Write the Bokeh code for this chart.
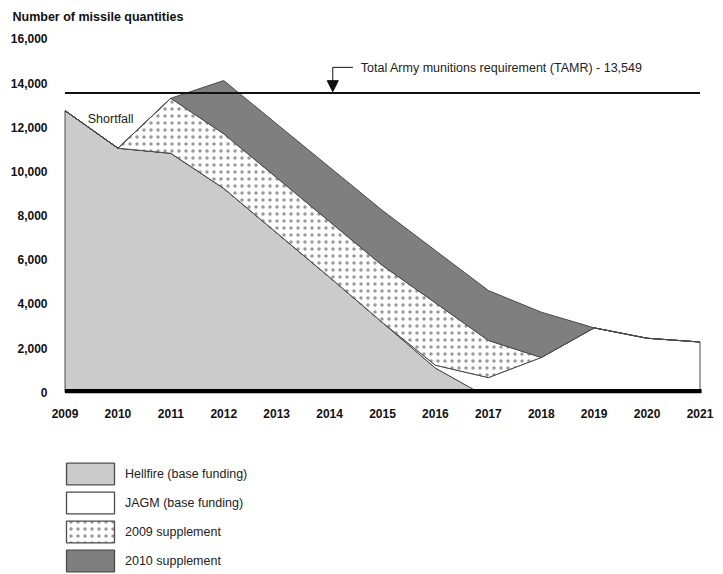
import numpy as np
from bokeh.plotting import figure
from bokeh.layouts import column
from bokeh.models import FixedTicker, Legend, LegendItem, Label, Arrow, NormalHead, Range1d
from bokeh.embed import file_html
from bokeh.resources import INLINE

# ---- data ----
fy = [2009, 2010, 2011, 2012, 2013, 2014, 2015, 2016, 2016.82, 2017, 2018, 2019, 2020, 2021]
hellfire = [12750, 11050, 10820, 9230, 7220, 5210, 3160, 1100, 0, 0, 0, 0, 0, 0]
jagm = [0, 0, 0, 0, 0, 0, 0, 130, 770, 670, 1580, 2920, 2450, 2280]
supp_2009 = [0, 0, 2490, 2470, 2495, 2520, 2580, 2820, 1890, 1680, 0, 0, 0, 0]
supp_2010 = [0, 0, 0, 2410, 2435, 2460, 2490, 2370, 2280, 2260, 2050, 0, 0, 0]
series_names = ["Hellfire (base funding)", "JAGM (base funding)", "2009 supplement", "2010 supplement"]
tamr = 13549
tamr_label = "Total Army munitions requirement (TAMR) - 13,549"
year_ticks = list(range(2009, 2022))
year_labels = [str(y) for y in year_ticks]
y_ticks = [0, 2000, 4000, 6000, 8000, 10000, 12000, 14000, 16000]
y_tick_labels = ["0", "2,000", "4,000", "6,000", "8,000", "10,000", "12,000", "14,000", "16,000"]

FONT = "Liberation Sans"
OUTLINE = "#4a4a4a"

p = figure(width=723, height=420, output_backend="svg", toolbar_location=None,
           x_range=Range1d(2008.877, 2021.236), y_range=Range1d(-367, 16376),
           min_border_left=58, min_border_right=11, min_border_top=30, min_border_bottom=20,
           title="Number of missile quantities")
p.title.align = "left"
p.title.offset = -46
p.title.standoff = 14
p.title.text_font = FONT
p.title.text_font_size = "12.5px"
p.title.text_font_style = "bold"
p.title.text_color = "#111111"
p.xgrid.visible = False
p.ygrid.visible = False
p.outline_line_color = None

for ax, ticks, labels in ((p.yaxis[0], y_ticks, y_tick_labels), (p.xaxis[0], year_ticks, year_labels)):
    ax.ticker = FixedTicker(ticks=ticks)
    ax.major_label_overrides = dict(zip(ticks, labels))
    ax.major_label_text_font = FONT
    ax.major_label_text_font_size = "12px"
    ax.major_label_text_font_style = "bold"
    ax.major_label_text_color = "#111111"
    ax.axis_line_color = None
    ax.major_tick_line_color = None
    ax.minor_tick_line_color = None
p.yaxis.major_label_standoff = 5
p.xaxis.major_label_standoff = 2

x = np.array(fy, dtype=float)
layers = [np.array(v, dtype=float) for v in (hellfire, jagm, supp_2009, supp_2010)]
styles = [
    dict(fill_color="#cbcbcb"),
    dict(fill_color="white"),
    dict(fill_color="white", hatch_pattern="dot", hatch_scale=7, hatch_weight=0.5,
         hatch_color="#9a9a9a"),
    dict(fill_color="#7f7f7f"),
]
base = np.zeros_like(x)
for vals, st in zip(layers, styles):
    top = base + vals
    xs = np.concatenate([x, x[::-1]])
    ys = np.concatenate([top, base[::-1]])
    p.patch(xs, ys, line_color=OUTLINE, line_width=1, **st)
    base = top

# baseline bar
p.quad(left=fy[0], right=fy[-1] + 0.03, bottom=-35, top=155, fill_color="black", line_color=None)

# TAMR line and its pointer
p.line([fy[0], fy[-1]], [tamr, tamr], line_color="#111111", line_width=2)
p.line([2014.44, 2014.06], [14708, 14708], line_color="#111111", line_width=1)
p.add_layout(Arrow(x_start=2014.06, y_start=14708, x_end=2014.06, y_end=tamr + 60,
                   line_color="#111111", line_width=1,
                   end=NormalHead(size=11, fill_color="#111111", line_color="#111111")))
p.add_layout(Label(x=2014.59, y=14663, text=tamr_label, text_font=FONT, text_font_size="12.5px",
                   text_baseline="middle", text_align="left", text_color="#222222"))
p.add_layout(Label(x=2009.43, y=12384, text="Shortfall", text_font=FONT, text_font_size="12.5px",
                   text_baseline="middle", text_align="left", text_color="#222222"))

# ---- legend panel (pixel-like data coordinates, y downward) ----
q = figure(width=723, height=154, output_backend="svg", toolbar_location=None,
           x_range=Range1d(0, 654), y_range=Range1d(116, 0),
           x_axis_location=None, y_axis_location=None,
           min_border_left=58, min_border_right=11, min_border_top=38, min_border_bottom=0)
q.xgrid.visible = False
q.ygrid.visible = False
q.outline_line_color = None
dummies = [q.patch([-1000, -999, -999], [500, 500, 501], line_color=OUTLINE, line_width=1.3, **st)
           for st in styles]
q.add_layout(Label(x=8, y=-23.5, text="Fiscal year", text_font=FONT, text_font_size="12.5px",
                   text_font_style="bold", text_color="#111111",
                   text_baseline="middle", text_align="left"))
legend = Legend(items=[LegendItem(label=n, renderers=[r]) for n, r in zip(series_names, dummies)],
                location="top_left", orientation="vertical",
                label_text_font=FONT, label_text_font_size="12.5px", label_text_color="#222222",
                glyph_width=60, glyph_height=27, label_height=27, spacing=2, label_standoff=5,
                padding=0, margin=2, border_line_color=None, background_fill_alpha=0)
q.add_layout(legend)

layout = column(p, q, spacing=0)
open("out.html", "w").write(file_html(layout, INLINE))
